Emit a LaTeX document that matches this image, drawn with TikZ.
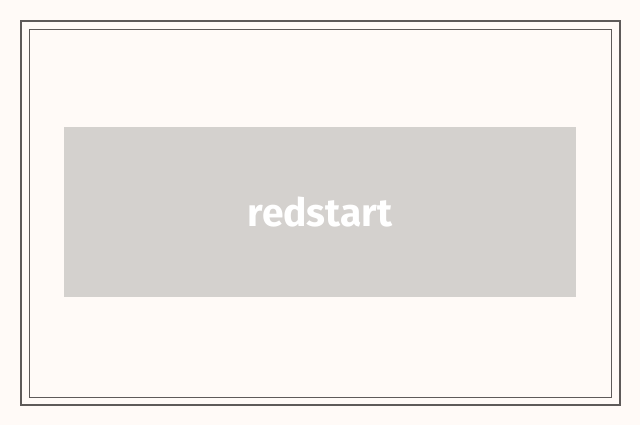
\documentclass[tikz,border=0pt]{standalone}
\usepackage{fontspec}
\setmainfont{Fira Sans}
\definecolor{bg}{HTML}{FFFAF7}
\definecolor{frame}{HTML}{5E5A59}
\definecolor{boxfill}{HTML}{D4D1CE}
\begin{document}
\begin{tikzpicture}[x=1pt,y=-1pt,
  outerframe/.style={draw=frame,line width=2pt},
  innerframe/.style={draw=frame,line width=1pt},
  label/.style={rectangle,fill=boxfill,minimum width=512pt,minimum height=170pt,inner sep=0pt,text=white,font=\fontsize{39}{46}\selectfont\bfseries}]
\fill[bg] (0,0) rectangle (640,425);
\useasboundingbox (0,0) rectangle (640,425);
\draw[outerframe] (21,21) rectangle (620,405);
\draw[innerframe] (29.5,29.5) rectangle (611.5,397.5);
\node[label] (redstart) at (320,212) {redstart};
\end{tikzpicture}
\end{document}
